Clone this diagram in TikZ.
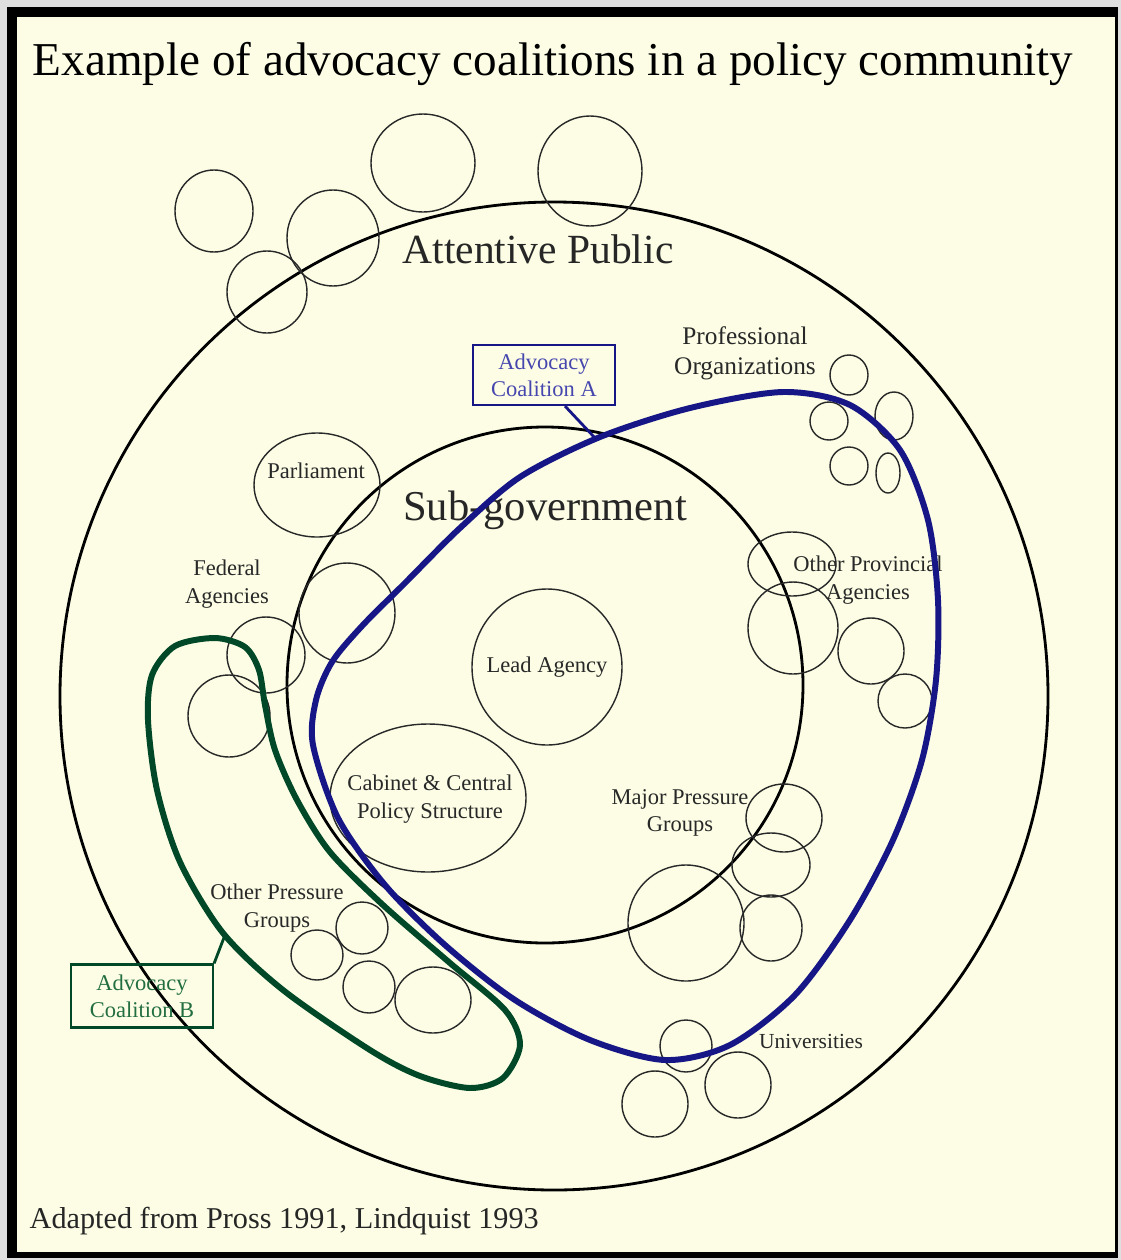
\documentclass[tikz,border=0pt]{standalone}
\usepackage{fontspec}
\setmainfont{Liberation Serif}
\usetikzlibrary{positioning}
\definecolor{paper}{RGB}{252,253,228}
\definecolor{coalA}{RGB}{22,22,135}
\definecolor{coalB}{RGB}{0,72,40}
\definecolor{txtA}{RGB}{70,70,175}
\definecolor{txtB}{RGB}{35,110,65}
\definecolor{ink}{RGB}{40,40,40}

\begin{document}
\begin{tikzpicture}[x=0.01cm, y=-0.01cm,
  ring/.style={draw=black, line width=0.8pt},
  bubble/.style={draw=ink, line width=0.4pt},
  lbl/.style={align=center, text=ink, font=\fontsize{6.4}{7.9}\selectfont},
  big/.style={text=black!85, anchor=base},
  callout/.style={draw, line width=0.6pt, align=center, minimum width=1.42cm,
    minimum height=0.6cm, inner sep=1pt, font=\fontsize{6.4}{7.6}\selectfont},
  blob/.style={line width=1.7pt}
]
% frame and paper
\fill[gray!25] (0,0) rectangle (1121,1260);
\fill[black] (7,7) rectangle (1118,1258);
\fill[paper] (17,17) rectangle (1115,1252);
\useasboundingbox (0,0) rectangle (1121,1260);

% attentive public and sub-government
\coordinate (pubc) at (554,696);
\coordinate (subc) at (545,685);
\draw[ring] (pubc) circle[radius=494];
\draw[ring] (subc) circle[radius=258];

% actors
\draw[bubble] (317,485) ellipse[x radius=63, y radius=52];
\draw[bubble] (547,667) ellipse[x radius=75, y radius=78];
\draw[bubble] (428,798) ellipse[x radius=98, y radius=74];
\foreach \cx/\cy/\rx/\ry in {214/211/39/41, 333/238/46/48, 267/292/40/41,
    423/163/52/49, 590/171/52/55, 347/613/48/50, 266/655/39/38, 229/716/41/41,
    849/375/19/20, 829/421/19/19, 894/416/19/24, 849/466/19/19, 888/473/12/20,
    792/564/44/32, 793/628/45/46, 871/651/33/33, 905/701/27/27,
    784/818/38/34, 771/865/39/32, 686/923/58/58, 771/928/31/33,
    317/955/26/25, 362/928/26/26, 369/987/26/26, 433/1000/38/33,
    686/1046/26/26, 655/1104/33/33, 738/1085/33/33}
  \draw[bubble] (\cx,\cy) ellipse[x radius=\rx, y radius=\ry];

% labels
\node[anchor=base, font=\fontsize{13.4}{16}\selectfont] (title) at (553,75)
  {Example of advocacy coalitions in a policy community};
\node[big, font=\fontsize{11.8}{14}\selectfont] (public) at (538,263) {Attentive Public};
\node[big, font=\fontsize{12.1}{14}\selectfont] (subgov) at (545,520) {Sub-government};
\node[lbl, font=\fontsize{7.2}{8.5}\selectfont] (prof) at (745,353) {Professional\\Organizations};
\node[lbl] (parl) at (316,471) {Parliament};
\node[lbl] (fed) at (227,584) {Federal\\Agencies};
\node[lbl] (prov) at (868,580) {Other Provincial\\Agencies};
\node[lbl] (lead) at (547,667) {Lead Agency};
\node[lbl] (cab) at (430,799) {Cabinet \& Central\\Policy Structure};
\node[lbl] (major) at (680,813) {Major Pressure\\Groups};
\node[lbl] (other) at (277,908) {Other Pressure\\Groups};
\node[lbl, font=\fontsize{6.1}{7.5}\selectfont] (univ) at (811,1041) {Universities};
\node[anchor=base west, inner sep=0pt, text=black!85, font=\fontsize{8.6}{10}\selectfont] (source)
  at (29,1228) {Adapted from Pross 1991, Lindquist 1993};

% coalition A
\draw[blob, coalA] plot[smooth cycle] coordinates {
  (783,392) (850,405) (900,450) (928,520) (938,600) (936,680) (922,760)
  (893,840) (850,920) (795,995) (730,1045) (665,1060) (590,1040) (515,1000)
  (445,945) (385,885) (338,818) (313,745) (316,700) (332,662) (362,626)
  (405,583) (460,528) (520,477) (600,437) (690,408)};
\node[callout, draw=coalA, text=txtA] (boxA) at (544,375) {Advocacy\\Coalition A};
\coordinate (tipA) at (595,438);
\draw[coalA, line width=0.8pt] ([xshift=0.21cm]boxA.south) -- (tipA);

% coalition B
\draw[blob, coalB] plot[smooth cycle] coordinates {
  (215,638) (245,647) (259,670) (265,705) (275,750) (297,800) (330,852)
  (383,905) (450,963) (505,1010) (520,1045) (503,1078) (470,1088) (420,1076)
  (370,1050) (283,990) (223,933) (180,862) (157,790) (148,720) (152,675)
  (175,646)};
\node[callout, draw=coalB, text=txtB, minimum height=0.63cm] (boxB) at (142,996) {Advocacy\\Coalition B};
\coordinate (tipB) at (225,935);
\draw[coalB, line width=0.8pt] (boxB.north east) -- (tipB);
\end{tikzpicture}
\end{document}
